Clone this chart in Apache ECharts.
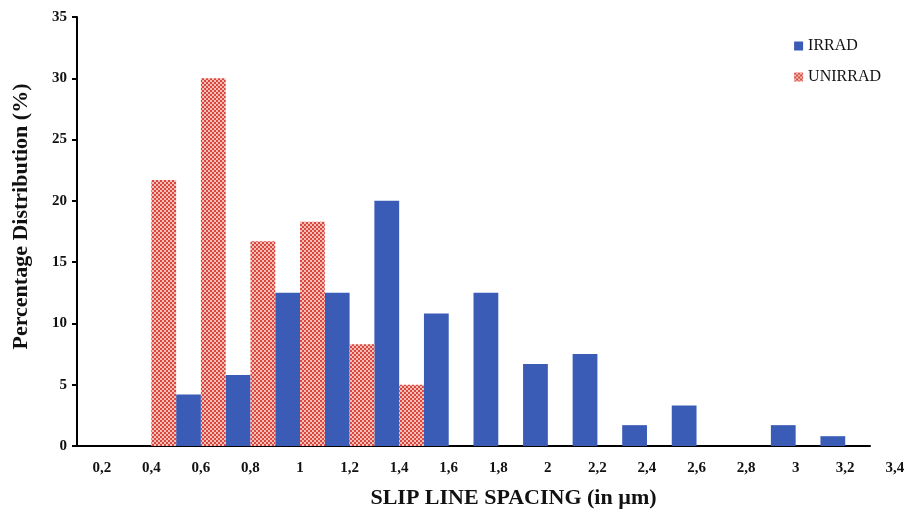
<!DOCTYPE html>
<html><head><meta charset="utf-8">
<script src="https://cdn.jsdelivr.net/npm/echarts@6/dist/echarts.min.js"></script>
<style>html,body{margin:0;padding:0;background:#fff}#c{width:908px;height:511px}</style>
</head><body><div id="c"></div>
<script>
// data categories (one per band) and the axis tick labels (one extra label beyond the axis end)
var categories = ['0,2','0,4','0,6','0,8','1','1,2','1,4','1,6','1,8','2','2,2','2,4','2,6','2,8','3','3,2'];
var tickLabels = ['0,2','0,4','0,6','0,8','1','1,2','1,4','1,6','1,8','2','2,2','2,4','2,6','2,8','3','3,2','3,4'];
var irrad   = [0, 0, 4.2, 5.8, 12.5, 12.5, 20, 10.8, 12.5, 6.7, 7.5, 1.7, 3.3, 0, 1.7, 0.8];
var unirrad = [0, 21.7, 30, 16.7, 18.3, 8.3, 5, 0, 0, 0, 0, 0, 0, 0, 0, 0];
var yTicks = [0,5,10,15,20,25,30,35];

var cv = document.createElement('canvas');
cv.width = 4; cv.height = 4;
var cx = cv.getContext('2d');
cx.fillStyle = '#f2beb6'; cx.fillRect(0,0,4,4);
cx.fillStyle = '#d9473f'; cx.fillRect(0,0,2,2); cx.fillRect(2,2,2,2);

var serif = '"Liberation Serif","Times New Roman",serif';
var L = 77, W = 793, band = W / categories.length;
var chart = echarts.init(document.getElementById('c'));
chart.setOption({
  animation:false,
  grid:[
    {left:L, width:W, top:17, bottom:65, outerBoundsMode:'none', containLabel:false},
    {left:L, width:band*tickLabels.length, top:17, bottom:65, outerBoundsMode:'none', containLabel:false}
  ],
  legend:{
    orient:'vertical', right:22, top:33, itemGap:15,
    itemWidth:9, itemHeight:9,
    textStyle:{fontFamily:serif, fontSize:16, color:'#111'},
    data:[{name:'IRRAD', icon:'rect'},{name:'UNIRRAD', icon:'rect'}]
  },
  xAxis:[{
    type:'category', data:categories, gridIndex:0,
    axisLine:{lineStyle:{color:'#000', width:2}},
    axisTick:{inside:true, length:5, lineStyle:{color:'#000', width:2}},
    axisLabel:{show:false},
    name:'SLIP LINE SPACING (in µm)', nameLocation:'middle', nameGap:41,
    nameTextStyle:{fontFamily:serif, fontWeight:'bold', fontSize:22, color:'#111', padding:[0,0,0,80]}
  },{
    type:'category', data:tickLabels, gridIndex:1,
    axisLine:{show:false}, axisTick:{show:false},
    axisLabel:{fontFamily:serif, fontWeight:'bold', fontSize:15, color:'#111', margin:15}
  }],
  yAxis:[{
    type:'value', gridIndex:0, min:yTicks[0], max:yTicks[yTicks.length-1], interval:5,
    splitLine:{show:false},
    axisLine:{show:true, lineStyle:{color:'#000', width:2}},
    axisTick:{show:true, length:5, lineStyle:{color:'#000', width:2}},
    axisLabel:{fontFamily:serif, fontWeight:'bold', fontSize:15, color:'#111', margin:10},
    name:'Percentage Distribution (%)', nameLocation:'middle', nameGap:45,
    nameTextStyle:{fontFamily:serif, fontWeight:'bold', fontSize:22, color:'#111', padding:[0,0,0,30]}
  },{
    type:'value', gridIndex:1, show:false, min:0, max:35
  }],
  series:[
    {name:'IRRAD', type:'bar', data:irrad, barGap:'0%', barCategoryGap:'0%',
     itemStyle:{color:'#3a5cb6'}},
    {name:'UNIRRAD', type:'bar', data:unirrad, barGap:'0%', barCategoryGap:'0%',
     itemStyle:{color:{image:cv, repeat:'repeat'}}}
  ]
});
</script></body></html>
